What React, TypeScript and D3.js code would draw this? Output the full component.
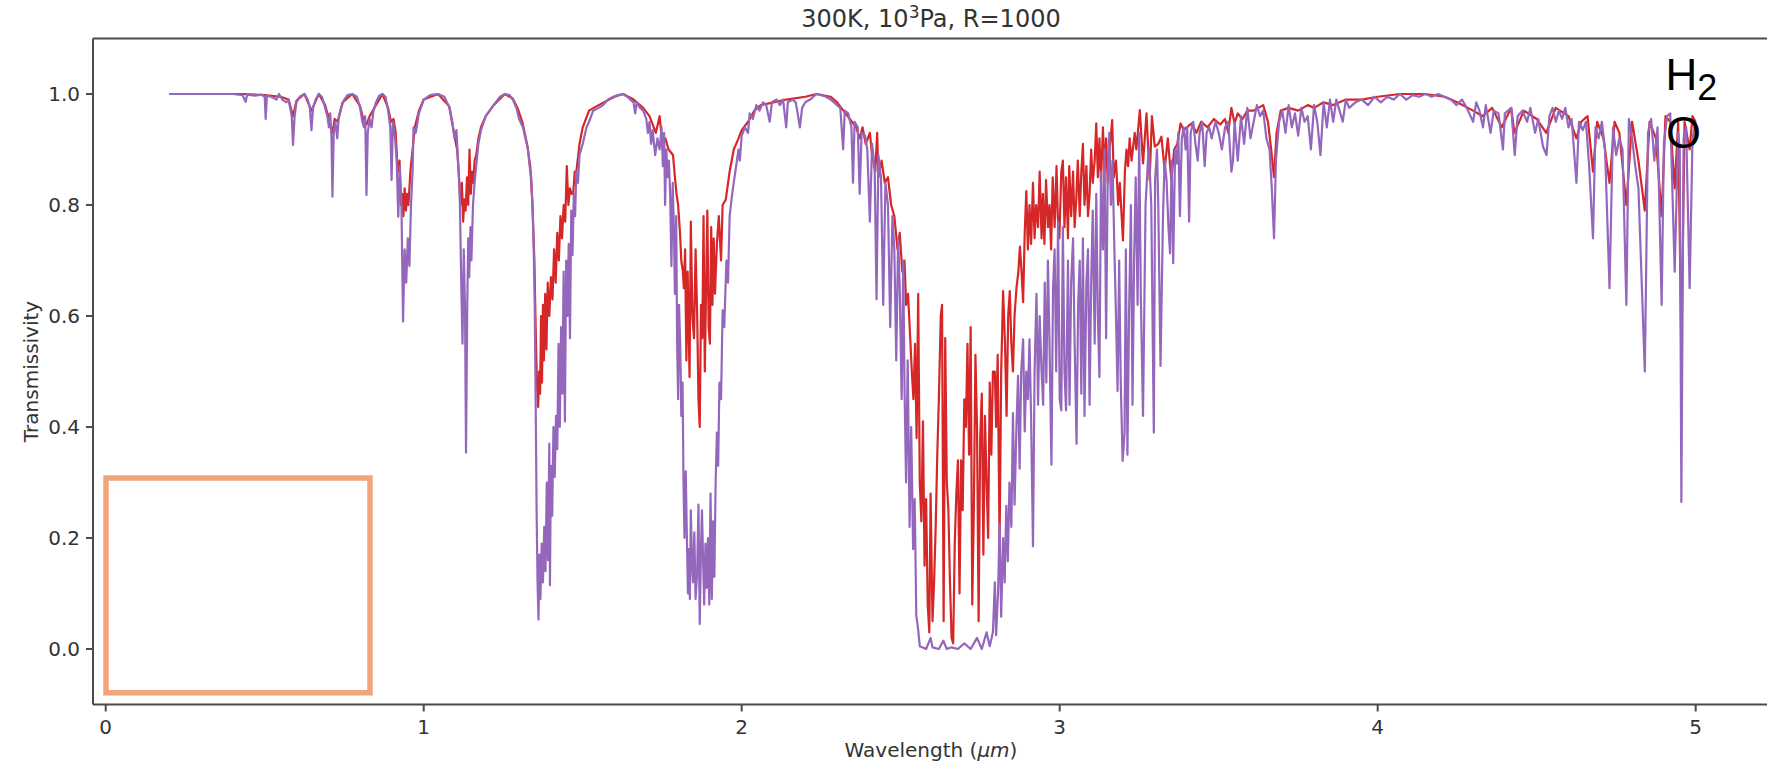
import React from 'react';
import * as d3 from 'd3';

type Pt = [number, number];

const xTicks = [0, 1, 2, 3, 4, 5];
const yTicks = [0.0, 0.2, 0.4, 0.6, 0.8, 1.0];
const titleMain = '300K, 10';
const titleSup = '3';
const titleRest = 'Pa, R=1000';

// Purple series: [wavelength (µm), transmissivity]
const purpleSpectrum: Pt[] = [
  [0.20,1.0],[0.30,1.0],[0.40,1.0],[0.43,0.998],[0.44,0.986],[0.445,0.999],[0.47,0.997],[0.49,0.999],[0.50,0.995],[0.503,0.955],[0.507,0.997],[0.52,0.995],[0.537,0.99],[0.545,1.0],[0.555,0.99],[0.568,0.985],[0.575,0.99],[0.58,0.975],[0.585,0.96],[0.589,0.908],[0.594,0.96],[0.60,0.985],[0.61,0.995],[0.625,1.0],[0.635,0.99],[0.642,0.975],[0.647,0.935],[0.652,0.975],[0.66,0.99],[0.67,1.0],[0.68,0.995],[0.69,0.975],[0.697,0.96],[0.702,0.94],[0.706,0.965],[0.71,0.92],[0.713,0.815],[0.717,0.93],[0.722,0.95],[0.728,0.92],[0.733,0.96],[0.74,0.975],[0.75,0.99],[0.76,0.998],[0.775,1.0],[0.79,0.995],[0.80,0.975],[0.807,0.95],[0.812,0.94],[0.816,0.96],[0.82,0.818],[0.824,0.93],[0.83,0.955],[0.836,0.94],[0.842,0.97],[0.85,0.985],[0.86,0.997],[0.87,1.0],[0.88,0.995],[0.888,0.97],[0.895,0.94],[0.899,0.845],[0.903,0.95],[0.91,0.92],[0.915,0.88],[0.92,0.779],[0.925,0.87],[0.93,0.80],[0.935,0.59],[0.94,0.72],[0.945,0.66],[0.95,0.74],[0.955,0.69],[0.96,0.80],[0.965,0.86],[0.968,0.94],[0.975,0.93],[0.985,0.965],[1.0,0.99],[1.02,0.998],[1.045,1.0],[1.065,0.995],[1.082,0.974],[1.09,0.95],[1.097,0.92],[1.103,0.935],[1.108,0.88],[1.113,0.83],[1.118,0.66],[1.122,0.55],[1.126,0.72],[1.13,0.61],[1.133,0.354],[1.137,0.62],[1.14,0.74],[1.143,0.67],[1.147,0.76],[1.15,0.70],[1.155,0.80],[1.16,0.84],[1.165,0.87],[1.172,0.91],[1.18,0.935],[1.195,0.96],[1.22,0.98],[1.24,0.995],[1.255,1.0],[1.27,0.998],[1.28,0.99],[1.292,0.974],[1.30,0.955],[1.312,0.94],[1.32,0.92],[1.328,0.90],[1.333,0.87],[1.338,0.85],[1.342,0.80],[1.346,0.72],[1.349,0.62],[1.352,0.45],[1.355,0.25],[1.358,0.12],[1.361,0.053],[1.364,0.17],[1.367,0.09],[1.371,0.19],[1.375,0.12],[1.379,0.22],[1.383,0.14],[1.387,0.30],[1.391,0.16],[1.395,0.37],[1.397,0.115],[1.40,0.33],[1.404,0.24],[1.408,0.40],[1.412,0.31],[1.416,0.42],[1.42,0.36],[1.424,0.55],[1.428,0.40],[1.432,0.58],[1.436,0.46],[1.44,0.68],[1.444,0.41],[1.448,0.70],[1.452,0.60],[1.456,0.73],[1.46,0.56],[1.464,0.79],[1.468,0.71],[1.472,0.82],[1.476,0.78],[1.48,0.86],[1.485,0.84],[1.49,0.89],[1.50,0.91],[1.512,0.94],[1.52,0.95],[1.533,0.97],[1.55,0.975],[1.564,0.98],[1.58,0.99],[1.596,0.995],[1.61,0.998],[1.627,1.0],[1.64,0.995],[1.65,0.99],[1.66,0.985],[1.665,0.965],[1.67,0.985],[1.68,0.975],[1.69,0.97],[1.70,0.955],[1.705,0.93],[1.71,0.95],[1.715,0.91],[1.72,0.935],[1.728,0.89],[1.735,0.92],[1.742,0.90],[1.748,0.94],[1.752,0.87],[1.756,0.93],[1.759,0.80],[1.763,0.90],[1.767,0.85],[1.771,0.88],[1.775,0.82],[1.779,0.69],[1.783,0.84],[1.787,0.75],[1.79,0.64],[1.794,0.78],[1.797,0.55],[1.80,0.45],[1.803,0.62],[1.807,0.54],[1.81,0.42],[1.814,0.48],[1.817,0.30],[1.82,0.20],[1.824,0.32],[1.827,0.22],[1.831,0.10],[1.834,0.18],[1.837,0.09],[1.84,0.25],[1.844,0.15],[1.847,0.12],[1.851,0.21],[1.855,0.09],[1.86,0.14],[1.864,0.26],[1.868,0.045],[1.872,0.18],[1.875,0.25],[1.879,0.15],[1.882,0.08],[1.886,0.19],[1.89,0.11],[1.894,0.20],[1.898,0.08],[1.902,0.28],[1.906,0.09],[1.91,0.23],[1.914,0.13],[1.918,0.30],[1.922,0.39],[1.926,0.33],[1.93,0.48],[1.935,0.45],[1.94,0.61],[1.945,0.58],[1.952,0.70],[1.957,0.66],[1.962,0.78],[1.97,0.82],[1.98,0.86],[1.99,0.90],[1.994,0.88],[2.0,0.925],[2.01,0.94],[2.02,0.93],[2.025,0.965],[2.035,0.955],[2.046,0.98],[2.056,0.97],[2.067,0.985],[2.077,0.98],[2.088,0.95],[2.095,0.985],[2.11,0.99],[2.12,0.98],[2.13,0.99],[2.14,0.94],[2.145,0.985],[2.16,0.99],[2.17,0.985],[2.183,0.94],[2.19,0.975],[2.20,0.985],[2.215,0.99],[2.235,1.0],[2.25,0.998],[2.265,0.995],[2.28,0.99],[2.29,0.985],[2.30,0.98],[2.31,0.975],[2.319,0.90],[2.324,0.97],[2.335,0.965],[2.345,0.94],[2.35,0.84],[2.355,0.95],[2.365,0.94],[2.371,0.82],[2.377,0.93],[2.388,0.925],[2.395,0.90],[2.403,0.77],[2.41,0.91],[2.418,0.87],[2.424,0.63],[2.43,0.89],[2.438,0.85],[2.445,0.62],[2.452,0.84],[2.46,0.80],[2.467,0.58],[2.474,0.78],[2.48,0.72],[2.486,0.52],[2.492,0.74],[2.497,0.65],[2.503,0.45],[2.508,0.70],[2.512,0.47],[2.517,0.30],[2.522,0.52],[2.528,0.22],[2.533,0.40],[2.539,0.18],[2.544,0.27],[2.549,0.06],[2.554,0.04],[2.56,0.005],[2.58,0.0],[2.594,0.02],[2.60,0.003],[2.62,0.0],[2.634,0.015],[2.645,0.0],[2.66,0.003],[2.68,0.0],[2.70,0.01],[2.72,0.0],[2.74,0.02],[2.755,0.0],[2.77,0.03],[2.78,0.005],[2.79,0.03],[2.796,0.12],[2.80,0.025],[2.806,0.10],[2.811,0.225],[2.816,0.058],[2.822,0.20],[2.827,0.12],[2.832,0.258],[2.837,0.158],[2.842,0.30],[2.848,0.22],[2.853,0.425],[2.858,0.26],[2.864,0.40],[2.869,0.492],[2.874,0.325],[2.879,0.50],[2.885,0.558],[2.89,0.392],[2.895,0.50],[2.90,0.45],[2.905,0.558],[2.91,0.42],[2.916,0.185],[2.921,0.50],[2.927,0.64],[2.932,0.44],[2.937,0.60],[2.943,0.50],[2.948,0.44],[2.953,0.66],[2.958,0.48],[2.963,0.70],[2.968,0.55],[2.974,0.332],[2.979,0.65],[2.984,0.72],[2.989,0.50],[2.995,0.77],[3.0,0.45],[3.005,0.43],[3.01,0.76],[3.015,0.50],[3.02,0.43],[3.026,0.70],[3.031,0.44],[3.036,0.66],[3.042,0.74],[3.047,0.55],[3.053,0.37],[3.058,0.62],[3.063,0.70],[3.068,0.46],[3.073,0.74],[3.078,0.42],[3.084,0.66],[3.089,0.72],[3.094,0.44],[3.099,0.66],[3.104,0.79],[3.11,0.55],[3.115,0.82],[3.12,0.60],[3.125,0.49],[3.13,0.86],[3.136,0.72],[3.141,0.90],[3.146,0.56],[3.151,0.85],[3.156,0.93],[3.161,0.80],[3.166,0.88],[3.172,0.72],[3.177,0.60],[3.182,0.465],[3.187,0.70],[3.192,0.48],[3.198,0.339],[3.204,0.39],[3.208,0.72],[3.213,0.35],[3.218,0.60],[3.224,0.80],[3.229,0.44],[3.234,0.70],[3.239,0.85],[3.245,0.62],[3.25,0.93],[3.255,0.64],[3.262,0.42],[3.27,0.80],[3.28,0.905],[3.288,0.80],[3.296,0.39],[3.30,0.845],[3.306,0.90],[3.31,0.80],[3.317,0.51],[3.325,0.785],[3.33,0.88],[3.336,0.845],[3.342,0.76],[3.347,0.713],[3.352,0.88],[3.357,0.695],[3.363,0.90],[3.368,0.875],[3.373,0.93],[3.378,0.78],[3.384,0.92],[3.39,0.94],[3.396,0.90],[3.401,0.94],[3.407,0.77],[3.412,0.93],[3.42,0.95],[3.427,0.91],[3.434,0.88],[3.44,0.93],[3.448,0.95],[3.456,0.87],[3.462,0.93],[3.47,0.94],[3.478,0.92],[3.49,0.95],[3.50,0.93],[3.51,0.90],[3.52,0.94],[3.53,0.95],[3.54,0.86],[3.545,0.88],[3.55,0.95],[3.56,0.88],[3.57,0.96],[3.58,0.91],[3.59,0.975],[3.60,0.92],[3.61,0.95],[3.62,0.98],[3.63,0.96],[3.64,0.97],[3.65,0.92],[3.66,0.90],[3.667,0.83],[3.674,0.74],[3.68,0.88],[3.69,0.95],[3.70,0.97],[3.71,0.93],[3.72,0.98],[3.73,0.94],[3.74,0.965],[3.75,0.925],[3.76,0.975],[3.77,0.95],[3.78,0.96],[3.79,0.90],[3.80,0.98],[3.81,0.95],[3.82,0.89],[3.83,0.985],[3.84,0.94],[3.85,0.99],[3.86,0.95],[3.87,0.99],[3.88,0.97],[3.89,0.95],[3.90,0.99],[3.91,0.975],[3.93,0.985],[3.95,0.99],[3.97,0.98],[3.99,0.995],[4.01,0.985],[4.03,0.995],[4.05,0.99],[4.07,1.0],[4.09,0.99],[4.11,0.998],[4.13,0.995],[4.15,1.0],[4.17,0.995],[4.19,1.0],[4.21,0.995],[4.23,0.99],[4.248,0.98],[4.265,0.99],[4.28,0.975],[4.30,0.95],[4.31,0.985],[4.32,0.97],[4.331,0.94],[4.34,0.98],[4.355,0.93],[4.365,0.97],[4.38,0.965],[4.394,0.90],[4.40,0.965],[4.42,0.975],[4.431,0.89],[4.44,0.96],[4.455,0.97],[4.47,0.95],[4.48,0.975],[4.495,0.93],[4.505,0.955],[4.52,0.905],[4.531,0.89],[4.54,0.96],[4.55,0.975],[4.56,0.95],[4.57,0.97],[4.58,0.955],[4.59,0.975],[4.60,0.94],[4.61,0.955],[4.625,0.84],[4.633,0.95],[4.645,0.935],[4.655,0.95],[4.665,0.87],[4.677,0.74],[4.685,0.94],[4.695,0.92],[4.705,0.95],[4.715,0.90],[4.729,0.65],[4.74,0.94],[4.75,0.89],[4.76,0.92],[4.77,0.90],[4.782,0.62],[4.79,0.955],[4.80,0.92],[4.81,0.87],[4.82,0.83],[4.84,0.50],[4.85,0.93],[4.86,0.955],[4.87,0.88],[4.88,0.94],[4.893,0.62],[4.90,0.91],[4.91,0.96],[4.92,0.965],[4.934,0.68],[4.945,0.93],[4.95,0.90],[4.955,0.265],[4.962,0.92],[4.97,0.94],[4.981,0.65],[4.99,0.92],[5.0,0.95]
];

// Red series: [wavelength (µm), transmissivity]
const redSpectrum: Pt[] = [
  [0.20,1.0],[0.43,1.0],[0.50,0.998],[0.55,0.995],[0.575,0.99],[0.589,0.96],[0.60,0.988],[0.625,1.0],[0.647,0.97],[0.67,1.0],[0.69,0.98],[0.70,0.96],[0.713,0.93],[0.72,0.955],[0.73,0.95],[0.745,0.985],[0.775,1.0],[0.80,0.978],[0.81,0.955],[0.82,0.945],[0.83,0.96],[0.845,0.975],[0.87,1.0],[0.888,0.975],[0.897,0.95],[0.905,0.955],[0.912,0.93],[0.918,0.86],[0.924,0.88],[0.928,0.80],[0.932,0.82],[0.936,0.78],[0.94,0.83],[0.944,0.79],[0.948,0.82],[0.952,0.80],[0.958,0.86],[0.965,0.90],[0.972,0.94],[0.985,0.97],[1.0,0.99],[1.045,1.0],[1.08,0.978],[1.095,0.93],[1.105,0.90],[1.11,0.86],[1.115,0.80],[1.12,0.84],[1.124,0.77],[1.128,0.81],[1.132,0.79],[1.136,0.85],[1.14,0.80],[1.144,0.90],[1.148,0.82],[1.152,0.86],[1.156,0.84],[1.16,0.88],[1.165,0.89],[1.172,0.92],[1.18,0.94],[1.195,0.96],[1.22,0.98],[1.255,1.0],[1.28,0.992],[1.295,0.975],[1.31,0.95],[1.325,0.91],[1.335,0.87],[1.342,0.80],[1.348,0.70],[1.352,0.58],[1.356,0.48],[1.36,0.436],[1.363,0.50],[1.366,0.46],[1.369,0.60],[1.372,0.48],[1.375,0.62],[1.378,0.52],[1.382,0.64],[1.386,0.54],[1.39,0.66],[1.395,0.60],[1.40,0.67],[1.405,0.63],[1.41,0.72],[1.415,0.66],[1.42,0.75],[1.425,0.70],[1.43,0.78],[1.435,0.74],[1.44,0.80],[1.445,0.77],[1.45,0.87],[1.455,0.80],[1.46,0.83],[1.465,0.82],[1.47,0.82],[1.475,0.86],[1.48,0.86],[1.49,0.91],[1.50,0.94],[1.52,0.97],[1.55,0.98],[1.60,0.995],[1.627,1.0],[1.66,0.99],[1.69,0.975],[1.71,0.96],[1.73,0.93],[1.742,0.96],[1.75,0.91],[1.76,0.92],[1.77,0.90],[1.784,0.89],[1.79,0.85],[1.795,0.82],[1.80,0.80],[1.806,0.75],[1.81,0.70],[1.815,0.68],[1.818,0.65],[1.822,0.72],[1.826,0.52],[1.83,0.68],[1.836,0.49],[1.84,0.77],[1.845,0.60],[1.85,0.56],[1.855,0.72],[1.86,0.60],[1.864,0.45],[1.868,0.40],[1.872,0.62],[1.876,0.56],[1.88,0.78],[1.884,0.50],[1.888,0.65],[1.892,0.79],[1.896,0.58],[1.90,0.55],[1.904,0.76],[1.908,0.62],[1.912,0.74],[1.916,0.64],[1.922,0.73],[1.928,0.78],[1.935,0.70],[1.94,0.80],[1.95,0.81],[1.962,0.86],[1.975,0.90],[1.99,0.92],[2.0,0.935],[2.02,0.95],[2.04,0.97],[2.06,0.98],[2.10,0.985],[2.14,0.99],[2.20,0.995],[2.235,1.0],[2.28,0.995],[2.30,0.985],[2.32,0.97],[2.34,0.955],[2.36,0.94],[2.371,0.92],[2.38,0.94],[2.39,0.91],[2.403,0.93],[2.41,0.89],[2.42,0.86],[2.426,0.93],[2.43,0.85],[2.44,0.88],[2.45,0.84],[2.46,0.85],[2.47,0.80],[2.48,0.78],[2.49,0.72],[2.497,0.75],[2.505,0.68],[2.512,0.70],[2.517,0.62],[2.523,0.64],[2.53,0.56],[2.535,0.50],[2.54,0.45],[2.545,0.55],[2.55,0.38],[2.555,0.64],[2.56,0.30],[2.565,0.23],[2.57,0.41],[2.575,0.15],[2.58,0.27],[2.585,0.08],[2.59,0.03],[2.594,0.28],[2.60,0.05],[2.605,0.12],[2.61,0.22],[2.615,0.35],[2.62,0.45],[2.626,0.60],[2.63,0.62],[2.635,0.05],[2.64,0.56],[2.645,0.30],[2.65,0.25],[2.655,0.12],[2.66,0.02],[2.665,0.01],[2.67,0.19],[2.675,0.28],[2.68,0.34],[2.685,0.10],[2.69,0.34],[2.695,0.25],[2.70,0.45],[2.705,0.40],[2.71,0.55],[2.715,0.35],[2.72,0.58],[2.725,0.08],[2.73,0.25],[2.735,0.53],[2.74,0.40],[2.745,0.05],[2.75,0.38],[2.755,0.46],[2.76,0.17],[2.765,0.42],[2.77,0.30],[2.775,0.20],[2.78,0.48],[2.785,0.35],[2.79,0.50],[2.796,0.50],[2.80,0.40],[2.805,0.53],[2.811,0.19],[2.816,0.50],[2.822,0.645],[2.828,0.55],[2.833,0.42],[2.838,0.60],[2.843,0.645],[2.848,0.55],[2.853,0.50],[2.858,0.60],[2.864,0.65],[2.87,0.68],[2.875,0.725],[2.88,0.68],[2.885,0.625],[2.89,0.75],[2.895,0.825],[2.90,0.72],[2.905,0.80],[2.91,0.73],[2.916,0.84],[2.921,0.74],[2.926,0.80],[2.932,0.76],[2.937,0.86],[2.943,0.74],[2.947,0.82],[2.952,0.73],[2.957,0.845],[2.963,0.76],[2.968,0.80],[2.973,0.72],[2.978,0.85],[2.984,0.76],[2.99,0.87],[2.994,0.78],[2.999,0.74],[3.005,0.86],[3.01,0.88],[3.015,0.76],[3.02,0.85],[3.026,0.74],[3.03,0.87],[3.036,0.78],[3.042,0.86],[3.047,0.76],[3.052,0.81],[3.057,0.88],[3.063,0.78],[3.068,0.86],[3.073,0.91],[3.078,0.80],[3.084,0.87],[3.089,0.78],[3.094,0.82],[3.099,0.90],[3.104,0.84],[3.11,0.88],[3.115,0.947],[3.12,0.85],[3.125,0.92],[3.13,0.84],[3.136,0.94],[3.141,0.86],[3.146,0.92],[3.151,0.84],[3.157,0.90],[3.165,0.953],[3.17,0.85],[3.177,0.88],[3.184,0.80],[3.189,0.84],[3.199,0.736],[3.205,0.86],[3.21,0.90],[3.215,0.87],[3.22,0.92],[3.226,0.88],[3.236,0.93],[3.241,0.90],[3.252,0.971],[3.262,0.875],[3.273,0.965],[3.283,0.845],[3.29,0.96],[3.299,0.905],[3.31,0.91],[3.32,0.923],[3.33,0.863],[3.34,0.92],[3.351,0.845],[3.36,0.90],[3.37,0.91],[3.38,0.947],[3.39,0.935],[3.40,0.94],[3.415,0.947],[3.43,0.93],[3.445,0.95],[3.465,0.94],[3.485,0.955],[3.505,0.945],[3.52,0.955],[3.53,0.93],[3.54,0.975],[3.55,0.947],[3.56,0.965],[3.575,0.955],[3.59,0.97],[3.61,0.97],[3.64,0.98],[3.655,0.95],[3.665,0.90],[3.674,0.85],[3.682,0.93],[3.695,0.97],[3.72,0.975],[3.75,0.97],[3.78,0.98],[3.80,0.975],[3.83,0.985],[3.86,0.98],[3.90,0.99],[3.95,0.99],[4.0,0.995],[4.07,1.0],[4.15,1.0],[4.21,0.995],[4.25,0.985],[4.30,0.97],[4.33,0.96],[4.36,0.975],[4.39,0.94],[4.42,0.975],[4.43,0.93],[4.46,0.97],[4.50,0.955],[4.53,0.93],[4.56,0.975],[4.60,0.96],[4.625,0.92],[4.64,0.95],[4.66,0.96],[4.677,0.86],[4.69,0.95],[4.71,0.92],[4.729,0.84],[4.745,0.95],[4.76,0.93],[4.782,0.80],[4.80,0.95],[4.82,0.88],[4.84,0.79],[4.855,0.95],[4.875,0.92],[4.893,0.78],[4.905,0.96],[4.92,0.95],[4.934,0.83],[4.945,0.95],[4.955,0.53],[4.965,0.95],[4.981,0.90],[4.99,0.96],[5.0,0.95]
];

const seriesColors = { red: '#d62728', purple: '#9467bd' };

export default function App() {
  const W = 1767;
  const H = 771;
  const x = d3.scaleLinear().domain([-0.04, 5.24]).range([93, 1772]);
  const y = d3.scaleLinear().domain([-0.1, 1.1]).range([704.5, 38.5]);
  const line = d3.line<Pt>().x((d) => x(d[0])).y((d) => y(d[1]));
  const left = x.range()[0];
  const right = x.range()[1];
  const top = y.range()[1];
  const bottom = y.range()[0];
  const axisColor = '#4a4a4a';
  const textColor = '#333333';
  const font = '"DejaVu Sans", sans-serif';

  return (
    <svg
      width={W}
      height={H}
      viewBox={`0 0 ${W} ${H}`}
      style={{ position: 'absolute', left: 0, top: 0, background: '#ffffff' }}
    >
      <rect x={0} y={0} width={W} height={H} fill="#ffffff" />
      <defs>
        <clipPath id="plotClip">
          <rect x={left} y={top} width={right - left} height={bottom - top} />
        </clipPath>
      </defs>

      <g clipPath="url(#plotClip)">
        <path d={line(redSpectrum) || ''} fill="none" stroke={seriesColors.red} strokeWidth={2.2} strokeLinejoin="round" />
        <path d={line(purpleSpectrum) || ''} fill="none" stroke={seriesColors.purple} strokeWidth={2.2} strokeLinejoin="round" />
      </g>

      {/* spines */}
      <line x1={left} x2={left} y1={top} y2={bottom} stroke={axisColor} strokeWidth={2} />
      <line x1={left} x2={right} y1={bottom} y2={bottom} stroke={axisColor} strokeWidth={2} />
      <line x1={left} x2={right} y1={top} y2={top} stroke={axisColor} strokeWidth={2} />
      <line x1={right} x2={right} y1={top} y2={bottom} stroke={axisColor} strokeWidth={2} />

      {/* y ticks */}
      {yTicks.map((t) => (
        <g key={`y${t}`}>
          <line x1={left - 7} x2={left} y1={y(t)} y2={y(t)} stroke={axisColor} strokeWidth={2} />
          <text x={left - 13} y={y(t)} dy="0.36em" textAnchor="end" fontFamily={font} fontSize={20} fill={textColor}>
            {t.toFixed(1)}
          </text>
        </g>
      ))}

      {/* x ticks */}
      {xTicks.map((t) => (
        <g key={`x${t}`}>
          <line x1={x(t)} x2={x(t)} y1={bottom} y2={bottom + 7} stroke={axisColor} strokeWidth={2} />
          <text x={x(t)} y={bottom + 29.5} textAnchor="middle" fontFamily={font} fontSize={20} fill={textColor}>
            {t}
          </text>
        </g>
      ))}

      {/* axis labels */}
      <text x={931} y={757} textAnchor="middle" fontFamily={font} fontSize={20} fill={textColor}>
        Wavelength (<tspan fontStyle="italic">μm</tspan>)
      </text>
      <text
        transform={`translate(38, ${(top + bottom) / 2}) rotate(-90)`}
        textAnchor="middle"
        fontFamily={font}
        fontSize={20}
        fill={textColor}
      >
        Transmissivity
      </text>

      {/* title */}
      <text x={931} y={26.5} textAnchor="middle" fontFamily={font} fontSize={24} fill={textColor}>
        {titleMain}
        <tspan fontSize={17} dy={-9}>{titleSup}</tspan>
        <tspan dy={9}>{titleRest}</tspan>
      </text>

      {/* highlight box */}
      <rect x={106} y={478} width={264} height={214.8} fill="none" stroke="#f2a57d" strokeWidth={5.5} />

      {/* annotation */}
      <text x={1665.5} y={90} fontFamily='"Liberation Sans", Arial, sans-serif' fontSize={44} fill="#000">
        H<tspan fontSize={36} dy={10}>2</tspan>
      </text>
      <text x={1666} y={147.5} fontFamily='"Liberation Sans", Arial, sans-serif' fontSize={45} fill="#000">
        O
      </text>
    </svg>
  );
}
